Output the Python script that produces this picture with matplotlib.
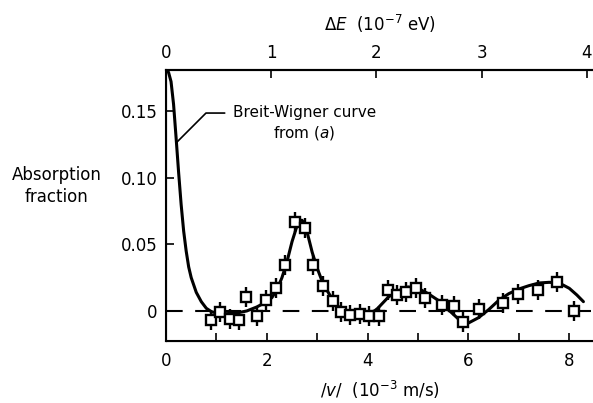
import matplotlib
matplotlib.use("Agg")
import matplotlib.pyplot as plt
from matplotlib.ticker import FixedLocator

plt.rcParams['font.family'] = ['DejaVu Sans']
plt.rcParams['mathtext.fontset'] = 'dejavusans'

# Smooth theoretical curve
curve_v = [0.00, 0.05, 0.10, 0.15, 0.20, 0.25, 0.30, 0.35, 0.40, 0.45, 0.50, 0.60,
           0.70, 0.80, 0.90, 1.00, 1.20, 1.40, 1.60, 1.80, 2.00, 2.10, 2.20, 2.30,
           2.40, 2.50, 2.60, 2.65, 2.70, 2.75, 2.80, 2.90, 3.00, 3.10, 3.20, 3.30,
           3.40, 3.50, 3.60, 3.80, 4.00, 4.10, 4.20, 4.30, 4.40, 4.50, 4.60, 4.80,
           5.00, 5.20, 5.40, 5.60, 5.80, 5.90, 6.00, 6.20, 6.40, 6.60, 6.80, 7.00,
           7.20, 7.40, 7.60, 7.80, 8.00, 8.15, 8.28]
curve_y = [0.180, 0.179, 0.172, 0.155, 0.130, 0.104, 0.080, 0.060, 0.045, 0.033, 0.025, 0.014,
           0.007, 0.002, -0.0005, -0.0015, -0.002, -0.0015, 0.000, 0.003, 0.007, 0.010, 0.016, 0.025,
           0.037, 0.052, 0.064, 0.068, 0.068, 0.065, 0.059, 0.044, 0.032, 0.022, 0.015, 0.009,
           0.004, 0.001, -0.001, -0.002, -0.002, -0.001, 0.002, 0.006, 0.010, 0.013, 0.015, 0.018,
           0.017, 0.013, 0.008, 0.001, -0.006, -0.009, -0.009, -0.005, 0.001, 0.008, 0.013, 0.0165,
           0.019, 0.021, 0.0215, 0.021, 0.017, 0.012, 0.007]

# Measured points
data_v = [0.89, 1.07, 1.27, 1.45, 1.59, 1.80, 1.98, 2.18, 2.37, 2.56, 2.76, 2.92,
          3.12, 3.32, 3.47, 3.65, 3.85, 4.03, 4.23, 4.41, 4.58, 4.76, 4.96, 5.14,
          5.47, 5.71, 5.89, 6.20, 6.68, 6.99, 7.37, 7.75, 8.10]
data_y = [-0.0067, -0.001, -0.006, -0.007, 0.0107, -0.0035, 0.008, 0.017, 0.0345, 0.067, 0.0625, 0.0345,
          0.0187, 0.0077, -0.001, -0.003, -0.0025, -0.004, -0.004, 0.016, 0.012, 0.0145, 0.017, 0.010,
          0.0045, 0.004, -0.008, 0.0013, 0.0057, 0.013, 0.0157, 0.0215, 0.000]
data_err = [0.0075] * len(data_v)

x_ticks = [0, 2, 4, 6, 8]
x_minor = [1, 3, 5, 7]
y_ticks = [0, 0.05, 0.10, 0.15]
y_labels = ['0', '0.05', '0.10', '0.15']
top_ticks = [0, 1, 2, 3, 4]
v_per_dE = 2.0875

fig = plt.figure(figsize=(5.93, 4.03), dpi=100)
ax = fig.add_axes([166/593, 1-341/403, 1-166/593, (341-70)/403])

xmax = 8.47
ax.set_xlim(0, xmax)
ax.set_ylim(-0.0225, 0.1807)

ax.axhline(0, color='black', lw=1.5, dashes=(8, 6))
ax.plot(curve_v, curve_y, color='black', lw=2.2, solid_capstyle='round', zorder=3)
ax.errorbar(data_v, data_y, yerr=data_err, fmt='s', ms=7, mfc='white', mec='black',
            mew=1.7, ecolor='black', elinewidth=1.7, capsize=0, zorder=4)

for s in ['left', 'bottom', 'top']:
    ax.spines[s].set_linewidth(1.5)
ax.spines['right'].set_visible(False)

ax.set_xticks(x_ticks)
ax.xaxis.set_minor_locator(FixedLocator(x_minor))
ax.set_yticks(y_ticks)
ax.set_yticklabels(y_labels)
ax.tick_params(axis='x', which='both', direction='in', length=6, width=1.2, labelsize=12, pad=8)
ax.tick_params(axis='y', direction='in', length=6, width=1.2, labelsize=12, pad=6)
ax.tick_params(top=False, right=False)

ax.set_xlabel('/$v$/  (10$^{-3}$ m/s)', fontsize=12, labelpad=6)

ax2 = ax.twiny()
ax2.set_xlim(0, xmax / v_per_dE)
ax2.set_xticks(top_ticks)
ax2.tick_params(axis='x', direction='in', length=6, width=1.2, labelsize=12, pad=6)
ax2.spines['right'].set_visible(False)
ax2.spines['top'].set_linewidth(1.5)
ax2.set_xlabel(r'$\Delta E$  (10$^{-7}$ eV)', fontsize=12, labelpad=9)

fig.text(57/593, 1-186/403, 'Absorption\nfraction', ha='center', va='center',
         fontsize=12, linespacing=1.25)

ax.annotate('Breit-Wigner curve\nfrom ($a$)', xy=(0.2, 0.126), xytext=(1.33, 0.1405),
            ha='left', va='center', multialignment='center', fontsize=11, linespacing=1.35,
            arrowprops=dict(arrowstyle='-', color='black', lw=1.2, relpos=(0, 0.78),
                            connectionstyle='angle,angleA=0,angleB=45,rad=0',
                            shrinkA=4, shrinkB=0))

fig.savefig('out.png', dpi=100)
